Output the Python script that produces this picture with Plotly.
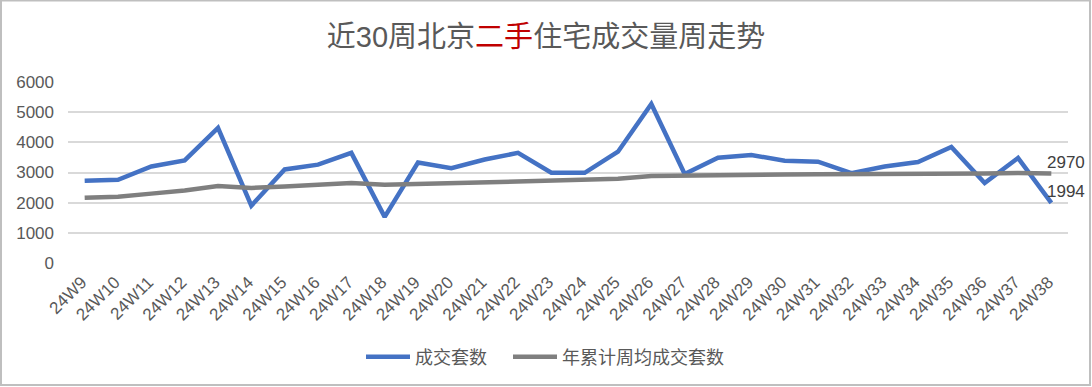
import plotly.graph_objects as go

weeks = ["24W9", "24W10", "24W11", "24W12", "24W13", "24W14", "24W15", "24W16", "24W17", "24W18",
         "24W19", "24W20", "24W21", "24W22", "24W23", "24W24", "24W25", "24W26", "24W27", "24W28",
         "24W29", "24W30", "24W31", "24W32", "24W33", "24W34", "24W35", "24W36", "24W37", "24W38"]
weekly_deals = [2730, 2760, 3200, 3400, 4480, 1900, 3100, 3260, 3650, 1530,
                3330, 3140, 3430, 3650, 2990, 2990, 3690, 5270, 2950, 3490,
                3580, 3390, 3360, 2980, 3200, 3350, 3850, 2650, 3480, 1994]
ytd_avg = [2160, 2200, 2300, 2400, 2550, 2490, 2540, 2580, 2650, 2590,
           2620, 2650, 2690, 2720, 2750, 2760, 2790, 2880, 2900, 2910,
           2920, 2930, 2940, 2940, 2950, 2960, 2960, 2970, 2980, 2970]
series_names = ["成交套数", "年累计周均成交套数"]
y_ticks = [0, 1000, 2000, 3000, 4000, 5000, 6000]

FONT = "Liberation Sans, Noto Sans CJK SC, sans-serif"
GRAY_TXT = "#595959"

fig = go.Figure()
fig.add_trace(go.Scatter(x=weeks, y=weekly_deals, mode="lines", name=series_names[0],
                         line=dict(color="#4472C4", width=4.5), legend="legend"))
fig.add_trace(go.Scatter(x=weeks, y=ytd_avg, mode="lines", name=series_names[1],
                         line=dict(color="#7F7F7F", width=4.5), legend="legend2"))

for val in (ytd_avg[-1], weekly_deals[-1]):
    fig.add_annotation(x=weeks[-1], y=val, text=str(val), showarrow=False,
                       xanchor="left", yanchor="middle", xshift=-6, yshift=11,
                       font=dict(family=FONT, size=17, color="#404040"))

fig.add_shape(type="rect", xref="paper", yref="paper",
              x0=-0.067, x1=1.022, y0=-0.674, y1=1.45,
              line=dict(color="#BFBFBF", width=2), fillcolor="rgba(0,0,0,0)", layer="below")

legend_common = dict(orientation="h", xanchor="left", y=-0.519, yanchor="middle",
                     font=dict(size=18, color=GRAY_TXT), bgcolor="rgba(0,0,0,0)",
                     itemwidth=44)

fig.update_layout(
    width=1092, height=387,
    margin=dict(l=68, r=24, t=82, b=124, autoexpand=False),
    paper_bgcolor="white", plot_bgcolor="white",
    font=dict(family=FONT, color=GRAY_TXT, size=17),
    title=dict(text="近30周北京<span style='color:#C00000'>二手</span>住宅成交量周走势",
               x=0.5, xanchor="center", y=1 - 37 / 387, yanchor="middle",
               font=dict(family=FONT, size=29, color=GRAY_TXT)),
    xaxis=dict(type="category", range=[-0.5, len(weeks) - 0.5], tickangle=-45,
               showgrid=False, showline=False, zeroline=False, ticks="", automargin=False,
               ticklabelstandoff=5, ticklabelshift=-3,
               tickfont=dict(size=17, color=GRAY_TXT)),
    yaxis=dict(range=[0, 6000], tickvals=y_ticks, showgrid=True, gridcolor="#D9D9D9",
               gridwidth=1.5, zeroline=False, showline=False, ticks="", automargin=False,
               ticklabelstandoff=13,
               tickfont=dict(size=17, color=GRAY_TXT)),
    legend=dict(x=0.293, **legend_common),
    legend2=dict(x=0.440, **legend_common),
    showlegend=True,
)

fig.write_html("out.html", config={"displayModeBar": False},
               post_script="document.body.style.margin='0';")
